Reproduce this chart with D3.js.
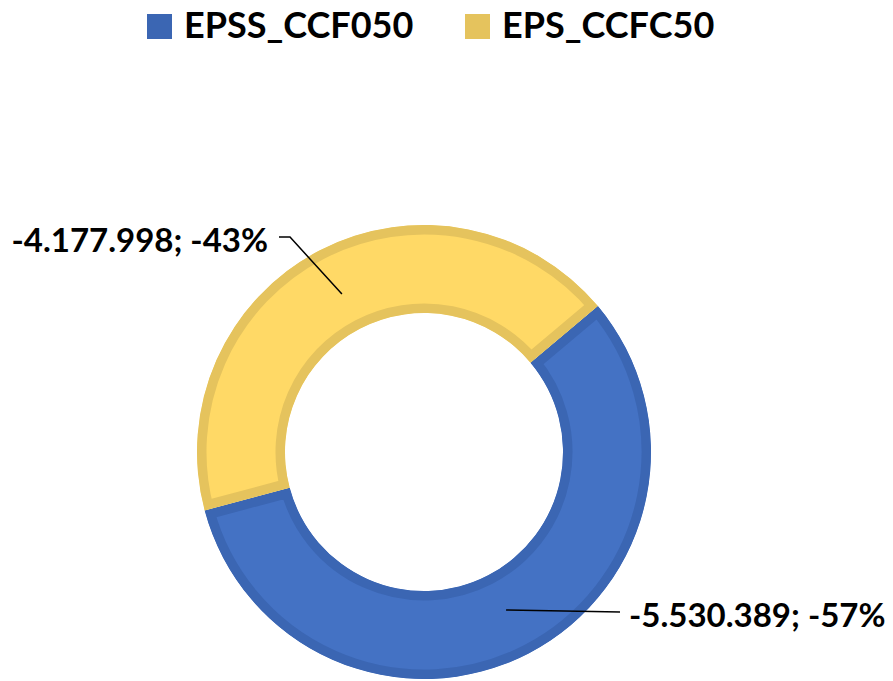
<!DOCTYPE html>
<html>
<head>
<meta charset="utf-8">
<script src="https://cdn.jsdelivr.net/npm/d3@7"></script>
<style>
  body { margin: 0; background: #fff; }
  svg { display: block; }
  text { font-family: Lato, "Open Sans", sans-serif; font-weight: bold; fill: #000; }
</style>
</head>
<body>
<div id="chart"></div>
<script>
// chart values
let categories = ["EPSS_CCF050", "EPS_CCFC50"];
let values = [-5530389, -4177998];
let percents = ["-57%", "-43%"];
let labels = ["-5.530.389", "-4.177.998"];
let fills = ["#4472C4", "#FFD966"];
let borders = ["#3B66B3", "#E5C35D"];

let width = 893, height = 681;
let cx = 424, cy = 452, outerR = 227, innerR = 139;

let svg = d3.select("#chart")
    .append("svg")
    .attr("width", width)
    .attr("height", height);

// pie on absolute values, first slice starts at ~50 deg like excel
let pie = d3.pie()
    .value(function(d) { return Math.abs(d); })
    .sort(null)
    .startAngle(50 * Math.PI / 180)
    .endAngle(50 * Math.PI / 180 + 2 * Math.PI);

let arc = d3.arc()
    .innerRadius(innerR)
    .outerRadius(outerR);

let midArc = d3.arc()
    .innerRadius(178)
    .outerRadius(178);

let arcs = pie(values);

let g = svg.append("g")
    .attr("transform", "translate(" + cx + "," + cy + ")");

// clip each slice to itself so the border sits inside
let defs = svg.append("defs");
arcs.forEach(function(d, i) {
    defs.append("clipPath")
        .attr("id", "clip" + i)
        .append("path")
        .attr("d", arc(d));
});

g.selectAll(".slice")
    .data(arcs)
    .enter()
    .append("path")
    .attr("class", "slice")
    .attr("d", arc)
    .attr("clip-path", function(d, i) { return "url(#clip" + i + ")"; })
    .style("fill", function(d, i) { return fills[i]; })
    .style("stroke", function(d, i) { return borders[i]; })
    .style("stroke-width", 19);

// data labels with leader lines
let fontSize = 33;

// blue slice: label to the right
let c0 = midArc.centroid(arcs[0]);
let lx0 = 629 - cx, ly0 = 627 - cy;
g.append("polyline")
    .attr("points", [[c0[0], c0[1]], [lx0 - 9, ly0 - 15]].join(" "))
    .style("fill", "none")
    .style("stroke", "#000")
    .style("stroke-width", 1.5);
g.append("text")
    .attr("x", lx0)
    .attr("y", ly0)
    .style("font-size", fontSize + "px")
    .text(labels[0] + "; " + percents[0]);

// yellow slice: label to the upper left
let c1 = midArc.centroid(arcs[1]);
let lx1 = 268 - cx, ly1 = 252 - cy;
g.append("polyline")
    .attr("points", [[c1[0], c1[1]], [lx1 + 22, ly1 - 15], [lx1 + 11, ly1 - 15]].join(" "))
    .style("fill", "none")
    .style("stroke", "#000")
    .style("stroke-width", 1.5);
g.append("text")
    .attr("x", lx1)
    .attr("y", ly1)
    .attr("text-anchor", "end")
    .style("font-size", fontSize + "px")
    .text(labels[1] + "; " + percents[1]);

// legend
let legendX = [147, 465];
let legend = svg.selectAll(".legend")
    .data(categories)
    .enter()
    .append("g")
    .attr("class", "legend")
    .attr("transform", function(d, i) { return "translate(" + legendX[i] + ",14)"; });

legend.append("rect")
    .attr("width", 25)
    .attr("height", 25)
    .style("fill", function(d, i) { return borders[i]; });

legend.append("text")
    .attr("x", 37)
    .attr("y", 24)
    .style("font-size", "36px")
    .text(function(d) { return d; });
</script>
</body>
</html>
